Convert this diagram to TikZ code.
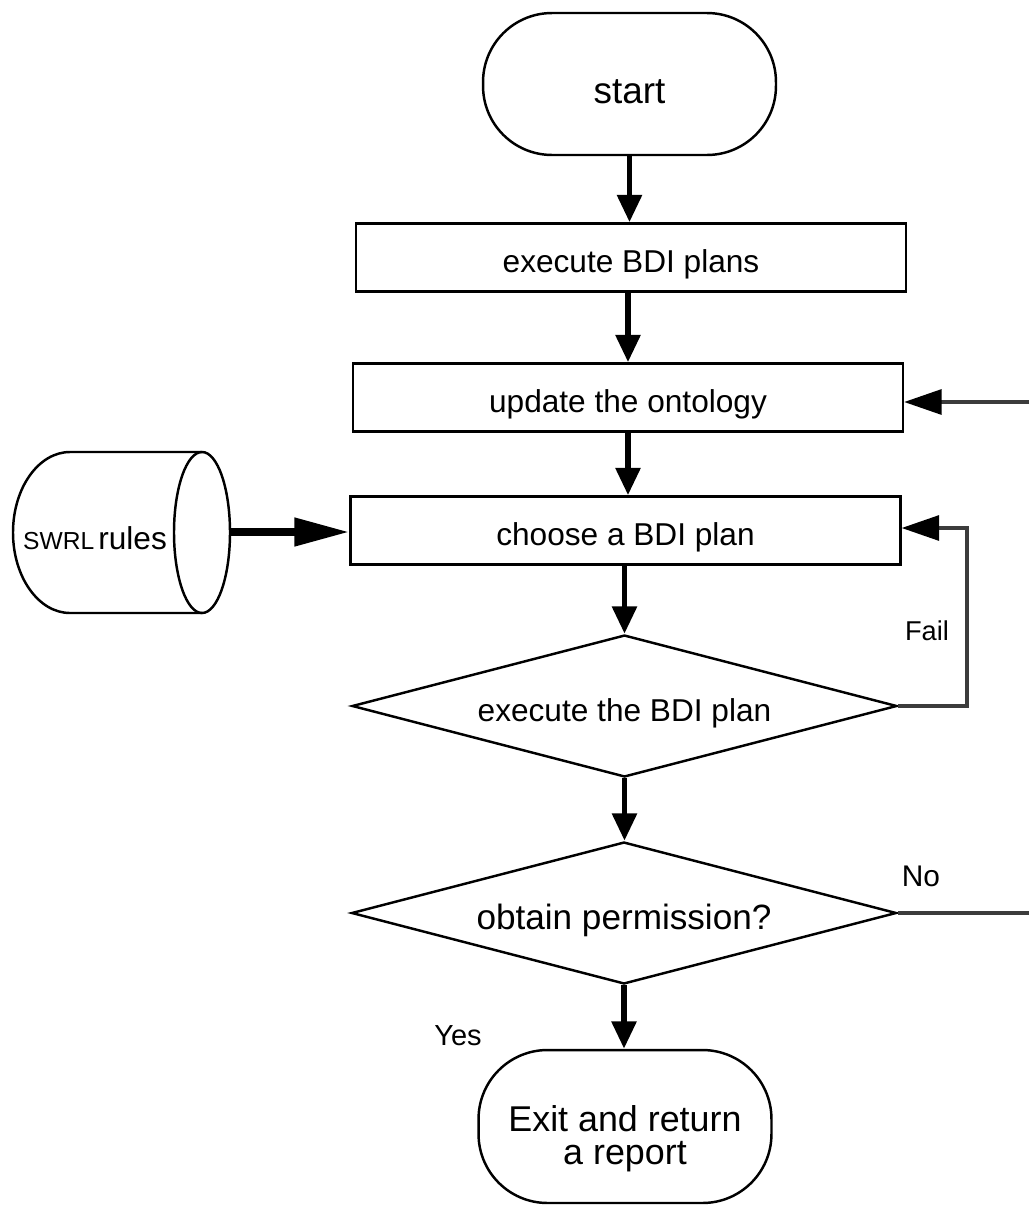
\documentclass[tikz,border=0pt]{standalone}
\usepackage{fontspec}
\setmainfont{Liberation Sans}
\usetikzlibrary{shapes.geometric,arrows.meta}
\definecolor{linkgray}{HTML}{3C3C3C}
\begin{document}
\begin{tikzpicture}[x=0.02cm,y=-0.02cm,
  box/.style={draw,line width=1.4pt,rectangle,inner sep=0pt,
    minimum width=11cm,minimum height=1.36cm,text height=17.5pt,text depth=0pt,
    font=\fontsize{18}{22}\selectfont},
  term/.style={draw,line width=1.4pt,rectangle,rounded corners=1.38cm,inner sep=0pt,
    minimum width=5.86cm},
  decision/.style={draw,line width=1.4pt,diamond,aspect=3.84,inner sep=0pt,
    minimum width=10.9cm,minimum height=2.84cm,text depth=0pt},
  flow/.style={line width=3.4pt,-{Triangle[length=0.55cm,width=0.48cm]}},
  feed/.style={line width=4.4pt,-{Triangle[length=1.1cm,width=0.54cm]}},
  loopline/.style={draw=linkgray,line width=1.8pt},
  looparrow/.style={loopline,-{Triangle[length=0.75cm,width=0.5cm,color=black]}},
  tag/.style={inner sep=0pt}]
\useasboundingbox (0,0) rectangle (1029,1207);

% terminals, process boxes and decisions
\node[term,minimum height=2.84cm,text height=21.8pt,text depth=0pt,
  font=\fontsize{21}{25}\selectfont] (start) at (629.5,84) {start};
\node[box] (b1) at (631,257.5) {execute BDI plans};
\node[box] (b2) at (628,397.5) {update the ontology};
\node[box] (b3) at (625.5,530.5) {choose a BDI plan};
\node[decision,text height=17.1pt,font=\fontsize{18}{22}\selectfont] (d1) at (624.5,706)
  {execute the BDI plan};
\node[decision,text height=19pt,font=\fontsize{20}{24}\selectfont] (d2) at (624,913)
  {obtain permission?};
\node[term,minimum height=3.06cm] (stop) at (625,1126.5) {};
\node[tag,align=center,font=\fontsize{20.4}{18.8}\selectfont] (stoptext) at (625,1139)
  {Exit and return\\a report};

% rule store drawn as a lying cylinder
\draw[line width=1.4pt,fill=white]
  (202,452) -- (70,452) arc[start angle=270,end angle=90,x radius=57,y radius=80.5]
  -- (202,613);
\draw[line width=1.4pt] (202,532.5) ellipse[x radius=28,y radius=80.5];
\node[tag] (swrl) at (95,538) {\fontsize{14}{16}\selectfont SWRL\,\fontsize{18}{22}\selectfont rules};
\coordinate (swrlout) at (230,532);

% main flow
\draw[flow] (start.south) -- (start.south |- b1.north);
\draw[flow] (b1.south -| b2) -- (b2.north);
\draw[flow] (b2.south) -- (b2.south |- b3.north);
\draw[flow] (b3.south -| d1) -- (d1.north);
\draw[flow] (d1.south) -- (d1.south |- d2.north);
\draw[flow] (d2.south) -- (d2.south |- stop.north);
\draw[feed] (swrlout) -- (b3.west |- swrlout);

% retry loop and permission loop
\coordinate (failturn) at (967,706);
\coordinate (failin) at (967,528);
\draw[looparrow] (d1.east) -- (failturn) -- (failin) -- (b3.east |- failin);
\coordinate (noout) at (1029,913);
\coordinate (noin) at (1029,402);
\draw[loopline] (d2.east) -- (noout);
\draw[looparrow] (noin) -- (b2.east |- noin);

% branch labels
\node[tag,font=\fontsize{15.5}{18}\selectfont] (fail) at (927,631) {Fail};
\node[tag,font=\fontsize{17}{20}\selectfont] (no) at (921,876) {No};
\node[tag,font=\fontsize{16.5}{19}\selectfont] (yes) at (458,1036) {Yes};
\end{tikzpicture}
\end{document}
